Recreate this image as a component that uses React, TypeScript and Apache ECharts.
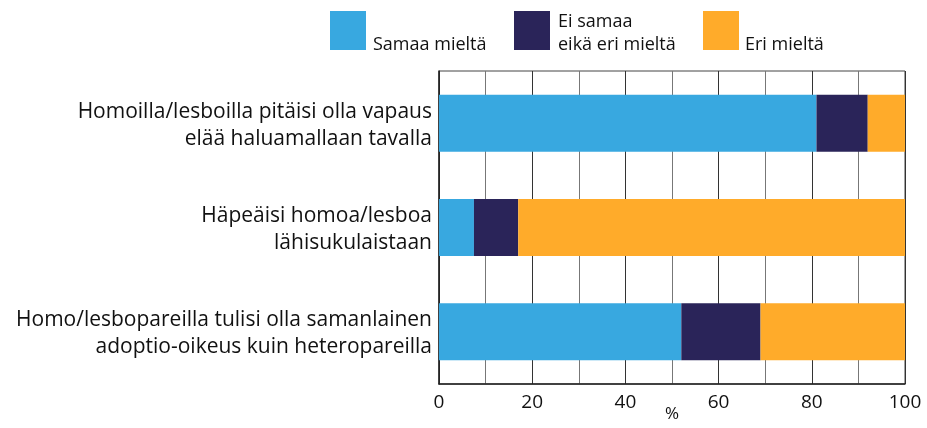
import React, { useEffect, useRef } from "react";
import * as echarts from "echarts";

const categories = [
  "Homoilla/lesboilla pitäisi olla vapaus\nelää haluamallaan tavalla",
  "Häpeäisi homoa/lesboa\nlähisukulaistaan",
  "Homo/lesbopareilla tulisi olla samanlainen\nadoptio-oikeus kuin heteropareilla",
];
const seriesNames = ["Samaa mieltä", "Ei samaa eikä eri mieltä", "Eri mieltä"];
const legendLines = [["Samaa mieltä"], ["Ei samaa", "eikä eri mieltä"], ["Eri mieltä"]];
const agree = [81, 7.5, 52];
const neutral = [11, 9.5, 17];
const disagree = [8, 83, 31];
const xTicks = [0, 20, 40, 60, 80, 100];
const colors = ["#38A8E0", "#2A2459", "#FFAB2A"];

const FONT = "'Open Sans', 'Noto Sans', sans-serif";

export default function App() {
  const ref = useRef<HTMLDivElement>(null);
  useEffect(() => {
    if (!ref.current) return;
    const chart = echarts.init(ref.current, undefined, { renderer: "svg" });
    const values = [agree, neutral, disagree];
    const legendX = [330, 514, 703];
    const legendTextX = [373, 558, 745];
    const graphic: any[] = [];
    legendLines.forEach((lines, i) => {
      graphic.push({
        type: "rect",
        shape: { x: legendX[i], y: 11, width: 36, height: 39 },
        style: { fill: colors[i] },
      });
      lines.forEach((line, j) => {
        graphic.push({
          type: "text",
          x: legendTextX[i],
          y: 52 - (lines.length - 1 - j) * 23,
          style: {
            text: line,
            font: `18px ${FONT}`,
            fill: "#111",
            verticalAlign: "bottom",
          },
        });
      });
    });
    chart.setOption({
      animation: false,
      grid: {
        left: 439,
        right: 22,
        top: 71,
        bottom: 44,
        show: true,
        borderColor: "#444",
        borderWidth: 1,
        outerBoundsMode: "none",
        containLabel: false,
      },
      graphic,
      xAxis: {
        type: "value",
        min: xTicks[0],
        max: xTicks[xTicks.length - 1],
        interval: 20,
        name: "%",
        nameLocation: "middle",
        nameGap: 20,
        nameMoveOverlap: false,
        nameTextStyle: {
          fontSize: 17,
          color: "#111",
          fontFamily: FONT,
          verticalAlign: "top",
        },
        axisLine: { show: true, lineStyle: { color: "#222", width: 1.5 } },
        axisTick: { show: false },
        axisLabel: { fontSize: 19, color: "#111", fontFamily: FONT, margin: 7 },
        splitLine: { show: true, lineStyle: { color: "#333", width: 1 } },
        minorTick: { show: false, splitNumber: 2 },
        minorSplitLine: { show: true, lineStyle: { color: "#777", width: 1 } },
      },
      yAxis: {
        type: "category",
        inverse: true,
        data: categories,
        axisLine: { show: true, lineStyle: { color: "#222", width: 1.5 } },
        axisTick: { show: false },
        axisLabel: {
          fontSize: 21,
          color: "#111",
          fontFamily: FONT,
          lineHeight: 27,
          align: "right",
          margin: 7,
        },
      },
      series: seriesNames.map((n, i) => ({
        name: n,
        type: "bar",
        stack: "total",
        barWidth: 57,
        itemStyle: { color: colors[i] },
        data: values[i],
      })),
    });
    return () => chart.dispose();
  }, []);
  return (
    <div
      ref={ref}
      style={{ position: "fixed", left: 0, top: 0, width: 927, height: 428 }}
    />
  );
}
